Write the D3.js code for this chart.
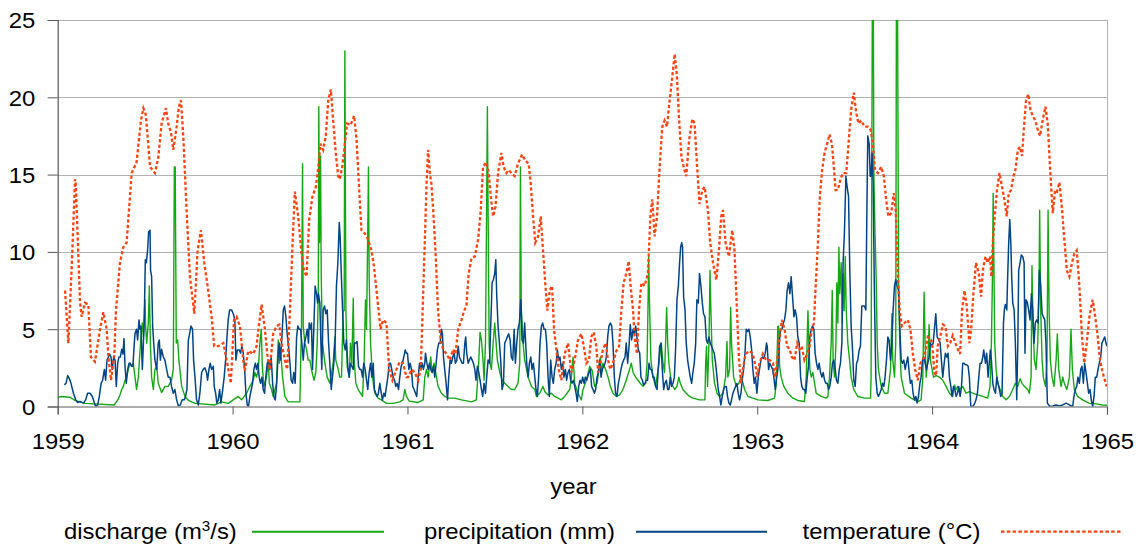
<!DOCTYPE html>
<html>
<head>
<meta charset="utf-8">
<script src="https://cdn.jsdelivr.net/npm/d3@7"></script>
<style>
  body { margin: 0; background: #fff; }
  text { font-family: "Liberation Sans", Arial, sans-serif; }
</style>
</head>
<body>
<svg id="chart" width="1145" height="549"></svg>
<script>
// Axis ticks and series labels
const yearTicks = [1959, 1960, 1961, 1962, 1963, 1964, 1965];
const valueTicks = [0, 5, 10, 15, 20, 25];
const seriesNames = ["discharge", "precipitation (mm)", "temperature (°C)"];

// Discharge (m³/s): [decimal year, value]
const discharge = [
[1959.000,0.6],[1959.023,0.65],[1959.070,0.6],[1959.099,0.4],[1959.128,0.3],[1959.156,0.2],[1959.324,0.1],[1959.347,0.5],[1959.356,0.75],[1959.366,1.1],[1959.375,1.3],[1959.385,1.7],[1959.394,1.9],[1959.404,2.4],[1959.413,2.8],[1959.423,2.6],[1959.432,2.8],[1959.442,1.9],[1959.451,1.1],[1959.461,1.9],[1959.476,4.5],[1959.484,5.4],[1959.490,4.5],[1959.499,6.9],[1959.503,5.1],[1959.509,4.1],[1959.518,5.4],[1959.524,7.8],[1959.530,4.1],[1959.537,1.9],[1959.547,1.1],[1959.556,2.4],[1959.566,2.6],[1959.575,1.5],[1959.594,0.9],[1959.613,1.3],[1959.632,1.3],[1959.651,1.7],[1959.661,2.4],[1959.667,15.5],[1959.672,15.5],[1959.678,4.1],[1959.686,4.3],[1959.693,3.0],[1959.709,1.3],[1959.728,0.65],[1959.747,0.4],[1959.785,0.2],[1959.899,0.1],[1959.937,0.3],[1959.975,0.2],[1960.000,0.4],
[1960.032,0.65],[1960.051,0.43],[1960.080,0.86],[1960.099,1.3],[1960.118,1.7],[1960.128,2.2],[1960.137,1.9],[1960.147,2.4],[1960.156,4.1],[1960.164,5.0],[1960.170,2.6],[1960.179,1.3],[1960.194,1.9],[1960.204,3.0],[1960.210,1.5],[1960.223,1.1],[1960.232,0.65],[1960.251,1.5],[1960.261,4.3],[1960.267,2.8],[1960.274,3.7],[1960.286,1.9],[1960.299,0.65],[1960.318,0.3],[1960.385,0.3],[1960.389,2.8],[1960.394,5.0],[1960.400,15.7],[1960.404,5.2],[1960.413,4.1],[1960.423,3.7],[1960.432,3.0],[1960.442,3.0],[1960.451,2.4],[1960.465,1.7],[1960.476,2.2],[1960.484,4.1],[1960.490,7.3],[1960.493,19.4],[1960.497,10.6],[1960.503,16.2],[1960.507,8.4],[1960.514,4.1],[1960.528,2.8],[1960.541,1.9],[1960.556,1.5],[1960.575,2.8],[1960.585,4.5],[1960.590,3.0],[1960.604,2.4],[1960.613,1.9],[1960.623,1.9],[1960.632,6.2],[1960.638,6.2],[1960.642,23.0],[1960.648,6.2],[1960.655,2.6],[1960.667,1.9],[1960.674,4.1],[1960.682,2.8],[1960.690,7.0],[1960.695,3.0],[1960.705,1.5],[1960.718,1.1],[1960.731,0.86],[1960.743,0.65],[1960.752,2.8],[1960.760,6.9],[1960.766,5.0],[1960.773,11.4],[1960.777,15.5],[1960.781,8.4],[1960.789,4.1],[1960.800,1.9],[1960.813,0.86],[1960.832,0.54],[1960.851,0.43],[1960.880,0.2],[1960.918,0.2],[1960.956,0.3],[1960.975,0.43],[1960.985,1.1],[1960.994,0.65],
[1961.010,0.35],[1961.061,0.26],[1961.090,0.43],[1961.099,1.9],[1961.109,2.4],[1961.118,1.9],[1961.133,3.2],[1961.141,2.2],[1961.152,2.8],[1961.166,1.9],[1961.175,1.3],[1961.194,0.86],[1961.213,0.65],[1961.232,0.54],[1961.270,0.54],[1961.309,0.43],[1961.366,0.3],[1961.394,0.43],[1961.408,3.0],[1961.415,4.8],[1961.423,4.3],[1961.432,3.0],[1961.438,1.7],[1961.446,4.1],[1961.451,10.6],[1961.457,19.4],[1961.461,12.7],[1961.467,4.1],[1961.472,2.8],[1961.480,2.4],[1961.490,4.1],[1961.499,5.4],[1961.507,4.1],[1961.514,3.0],[1961.528,2.2],[1961.541,1.7],[1961.556,1.5],[1961.575,1.3],[1961.594,1.1],[1961.613,1.1],[1961.632,1.5],[1961.642,2.8],[1961.646,15.5],[1961.651,6.2],[1961.661,4.1],[1961.670,3.0],[1961.690,1.9],[1961.709,1.3],[1961.728,1.1],[1961.737,0.65],[1961.756,0.86],[1961.775,1.3],[1961.785,0.97],[1961.804,0.75],[1961.823,0.86],[1961.842,0.65],[1961.861,0.54],[1961.880,0.43],[1961.899,0.65],[1961.928,1.1],[1961.937,1.9],[1961.947,3.2],[1961.956,1.5],[1961.975,0.86],[1961.994,0.43],
[1962.004,1.1],[1962.023,1.7],[1962.042,2.6],[1962.057,2.3],[1962.070,1.3],[1962.084,1.5],[1962.095,2.4],[1962.103,3.2],[1962.109,2.2],[1962.118,2.8],[1962.133,2.4],[1962.147,1.9],[1962.160,1.3],[1962.175,0.86],[1962.194,0.65],[1962.213,0.75],[1962.232,1.1],[1962.251,1.7],[1962.270,2.4],[1962.280,2.8],[1962.290,2.2],[1962.305,1.9],[1962.318,1.7],[1962.331,1.5],[1962.347,1.3],[1962.362,1.5],[1962.370,2.8],[1962.375,6.2],[1962.379,9.7],[1962.385,6.2],[1962.392,3.0],[1962.404,1.9],[1962.419,1.3],[1962.438,2.8],[1962.451,4.1],[1962.461,2.8],[1962.470,2.2],[1962.476,4.1],[1962.482,6.4],[1962.488,4.1],[1962.495,2.8],[1962.509,1.5],[1962.528,1.1],[1962.541,1.3],[1962.552,1.9],[1962.560,1.5],[1962.575,1.1],[1962.594,0.86],[1962.613,0.65],[1962.632,0.54],[1962.670,0.43],[1962.701,0.43],[1962.705,2.8],[1962.710,3.9],[1962.716,1.3],[1962.724,4.1],[1962.730,8.8],[1962.735,6.2],[1962.743,3.0],[1962.756,1.5],[1962.770,0.86],[1962.785,0.65],[1962.804,0.86],[1962.819,1.9],[1962.827,4.2],[1962.832,1.9],[1962.842,2.4],[1962.848,6.4],[1962.853,4.1],[1962.865,1.9],[1962.880,1.3],[1962.895,1.5],[1962.907,1.9],[1962.914,1.7],[1962.928,1.1],[1962.947,0.65],[1962.975,0.54],
[1963.004,0.43],[1963.061,0.39],[1963.099,0.54],[1963.109,1.5],[1963.118,5.2],[1963.122,5.2],[1963.128,2.6],[1963.137,1.9],[1963.152,1.3],[1963.175,0.86],[1963.204,0.54],[1963.232,0.39],[1963.270,0.32],[1963.280,1.9],[1963.290,6.2],[1963.295,4.1],[1963.301,2.4],[1963.309,1.9],[1963.318,2.2],[1963.328,1.5],[1963.337,0.86],[1963.366,0.65],[1963.394,0.54],[1963.404,0.65],[1963.413,1.9],[1963.423,4.1],[1963.429,7.5],[1963.434,3.0],[1963.442,1.9],[1963.450,4.1],[1963.455,8.0],[1963.461,5.4],[1963.467,10.3],[1963.472,7.3],[1963.480,9.3],[1963.486,5.4],[1963.491,8.6],[1963.497,6.2],[1963.503,9.7],[1963.509,6.2],[1963.518,4.1],[1963.528,3.0],[1963.537,1.9],[1963.552,1.1],[1963.575,0.65],[1963.613,0.54],[1963.648,0.54],[1963.651,1.9],[1963.655,14.9],[1963.659,29.0],[1963.663,29.0],[1963.667,14.9],[1963.674,11.0],[1963.680,8.4],[1963.686,4.1],[1963.693,2.4],[1963.709,1.3],[1963.728,0.86],[1963.747,0.86],[1963.762,2.4],[1963.770,6.0],[1963.775,3.0],[1963.785,1.9],[1963.792,4.1],[1963.796,27.0],[1963.802,27.0],[1963.808,8.4],[1963.815,4.1],[1963.823,1.9],[1963.842,0.86],[1963.880,0.54],[1963.918,0.32],[1963.937,0.43],[1963.947,1.9],[1963.954,7.4],[1963.960,4.1],[1963.966,1.9],[1963.975,3.0],[1963.983,5.3],[1963.990,3.0],
[1964.008,1.9],[1964.023,2.0],[1964.042,1.9],[1964.061,1.7],[1964.080,1.3],[1964.099,0.86],[1964.118,0.65],[1964.128,1.4],[1964.137,1.1],[1964.147,1.3],[1964.156,1.1],[1964.175,1.3],[1964.194,0.86],[1964.213,0.97],[1964.232,0.86],[1964.261,0.75],[1964.290,0.65],[1964.318,0.54],[1964.331,1.3],[1964.339,4.1],[1964.345,8.4],[1964.349,13.8],[1964.352,10.6],[1964.358,4.1],[1964.366,2.4],[1964.375,1.5],[1964.389,1.1],[1964.404,0.65],[1964.423,0.43],[1964.442,0.65],[1964.461,1.1],[1964.476,1.5],[1964.490,1.3],[1964.503,1.8],[1964.514,1.5],[1964.528,1.3],[1964.547,1.1],[1964.556,0.86],[1964.566,1.9],[1964.571,9.1],[1964.577,5.2],[1964.585,3.0],[1964.594,2.4],[1964.604,4.1],[1964.611,7.5],[1964.615,12.7],[1964.621,6.2],[1964.629,3.0],[1964.636,1.9],[1964.648,1.3],[1964.657,3.0],[1964.663,12.7],[1964.669,6.2],[1964.676,3.0],[1964.686,1.9],[1964.697,1.3],[1964.709,3.0],[1964.716,4.7],[1964.724,2.4],[1964.737,1.3],[1964.747,1.9],[1964.756,1.5],[1964.770,1.1],[1964.785,1.9],[1964.794,5.0],[1964.802,2.4],[1964.813,1.1],[1964.832,0.65],[1964.861,0.43],[1964.899,0.2],[1964.937,0.17],[1964.975,0.1],[1965.000,0.08]
];

// Precipitation (mm): [decimal year, value]
const precipitation = [
[1959.038,1.4],[1959.048,1.5],[1959.057,2.0],[1959.067,1.8],[1959.076,1.5],[1959.090,0.86],[1959.103,0.43],[1959.114,0.26],[1959.128,0.32],[1959.147,0.22],[1959.160,0.43],[1959.171,0.86],[1959.185,0.86],[1959.198,0.65],[1959.210,0.22],[1959.217,0],[1959.229,0.1],[1959.238,0.65],[1959.248,1.5],[1959.257,1.7],[1959.267,2.4],[1959.274,1.7],[1959.282,3.0],[1959.290,3.2],[1959.297,3.4],[1959.305,3.2],[1959.312,2.4],[1959.320,3.2],[1959.328,3.0],[1959.335,1.3],[1959.343,2.8],[1959.350,3.2],[1959.358,3.2],[1959.366,3.7],[1959.373,3.4],[1959.379,4.4],[1959.385,2.6],[1959.392,1.5],[1959.400,2.4],[1959.408,2.8],[1959.415,2.8],[1959.423,2.6],[1959.430,2.6],[1959.438,4.1],[1959.442,4.7],[1959.451,5.0],[1959.457,4.3],[1959.465,5.6],[1959.470,5.0],[1959.476,5.2],[1959.484,2.4],[1959.490,4.1],[1959.495,5.6],[1959.501,9.5],[1959.507,9.3],[1959.514,10.1],[1959.520,11.3],[1959.528,11.4],[1959.531,8.8],[1959.537,8.4],[1959.543,5.2],[1959.549,4.1],[1959.556,3.0],[1959.566,2.4],[1959.575,4.1],[1959.581,4.3],[1959.587,3.0],[1959.594,3.7],[1959.604,3.2],[1959.613,3.0],[1959.623,2.4],[1959.632,1.9],[1959.642,1.9],[1959.651,1.3],[1959.661,0.86],[1959.670,1.1],[1959.680,0.43],[1959.690,0.04],[1959.701,0.1],[1959.712,0.43],[1959.724,0.43],[1959.731,0.65],[1959.739,1.1],[1959.747,4.3],[1959.754,4.7],[1959.762,5.2],[1959.771,5.0],[1959.777,3.0],[1959.785,1.9],[1959.794,0.43],[1959.804,0.1],[1959.813,0.86],[1959.823,2.2],[1959.832,2.4],[1959.842,2.5],[1959.851,2.2],[1959.857,1.7],[1959.865,2.4],[1959.872,2.8],[1959.880,2.4],[1959.890,2.6],[1959.895,1.3],[1959.903,0.86],[1959.910,0.22],[1959.918,0.43],[1959.926,1.1],[1959.933,0.22],[1959.941,0.86],[1959.952,1.9],[1959.960,3.0],[1959.968,4.5],[1959.975,5.6],[1959.983,6.25],[1959.994,6.25],[1960.004,6.0],[1960.013,5.6],
[1960.019,3.0],[1960.027,3.66],[1960.038,3.66],[1960.046,3.45],[1960.053,3.9],[1960.061,3.45],[1960.069,2.4],[1960.076,0.86],[1960.084,0.1],[1960.091,0],[1960.099,0.65],[1960.107,1.1],[1960.114,1.5],[1960.122,2.4],[1960.130,2.8],[1960.137,2.4],[1960.145,2.8],[1960.152,1.9],[1960.160,1.5],[1960.168,1.9],[1960.175,1.1],[1960.183,0.86],[1960.190,1.9],[1960.198,2.8],[1960.206,3.0],[1960.213,2.4],[1960.221,3.2],[1960.229,1.5],[1960.236,0.65],[1960.244,0.43],[1960.251,1.3],[1960.259,3.0],[1960.267,4.1],[1960.274,3.0],[1960.282,4.5],[1960.290,6.25],[1960.297,6.5],[1960.305,5.8],[1960.312,4.7],[1960.320,3.9],[1960.328,2.8],[1960.335,1.7],[1960.343,1.5],[1960.350,2.2],[1960.358,1.5],[1960.366,4.5],[1960.373,5.2],[1960.381,5.0],[1960.389,5.0],[1960.396,4.1],[1960.404,3.0],[1960.411,4.1],[1960.419,4.5],[1960.427,5.0],[1960.434,4.1],[1960.438,5.4],[1960.446,5.0],[1960.451,5.4],[1960.457,2.4],[1960.465,5.2],[1960.472,7.8],[1960.480,7.3],[1960.486,6.7],[1960.491,7.3],[1960.499,6.7],[1960.505,4.1],[1960.510,2.4],[1960.518,6.25],[1960.526,6.5],[1960.533,6.0],[1960.541,6.25],[1960.549,4.1],[1960.556,2.8],[1960.564,1.1],[1960.571,1.9],[1960.579,2.8],[1960.587,4.5],[1960.594,7.8],[1960.602,9.3],[1960.610,11.9],[1960.615,11.0],[1960.621,8.8],[1960.629,6.25],[1960.636,4.1],[1960.644,3.66],[1960.651,4.3],[1960.659,2.6],[1960.667,1.9],[1960.674,2.8],[1960.682,2.6],[1960.690,2.4],[1960.697,4.1],[1960.705,4.1],[1960.712,4.2],[1960.720,2.6],[1960.728,2.4],[1960.735,2.4],[1960.743,1.9],[1960.750,2.8],[1960.758,2.4],[1960.766,1.7],[1960.773,1.1],[1960.781,2.2],[1960.789,2.8],[1960.796,1.9],[1960.804,2.8],[1960.811,1.1],[1960.819,0.86],[1960.827,0.65],[1960.834,0.86],[1960.842,1.5],[1960.850,0.86],[1960.857,0.43],[1960.865,0.86],[1960.872,0.65],[1960.880,1.3],[1960.888,1.9],[1960.895,2.8],[1960.903,2.8],[1960.910,2.4],[1960.918,1.9],[1960.926,1.7],[1960.933,1.3],[1960.941,1.5],[1960.949,1.1],[1960.956,1.9],[1960.964,2.6],[1960.971,2.8],[1960.979,3.2],[1960.987,3.66],[1960.994,3.45],
[1961.000,3.45],[1961.008,2.4],[1961.015,2.8],[1961.023,2.4],[1961.030,1.3],[1961.038,1.1],[1961.046,0.86],[1961.053,0.65],[1961.061,1.9],[1961.069,2.8],[1961.076,2.4],[1961.084,2.8],[1961.091,2.4],[1961.099,2.8],[1961.103,3.45],[1961.111,2.8],[1961.118,2.4],[1961.126,2.8],[1961.133,2.4],[1961.141,2.2],[1961.149,2.6],[1961.156,1.9],[1961.164,2.8],[1961.171,3.66],[1961.179,4.1],[1961.187,4.1],[1961.194,5.0],[1961.200,4.7],[1961.206,3.2],[1961.213,2.4],[1961.221,1.5],[1961.229,0.43],[1961.236,1.9],[1961.244,3.0],[1961.251,2.8],[1961.259,3.2],[1961.267,3.45],[1961.274,2.8],[1961.282,3.0],[1961.290,3.9],[1961.297,3.2],[1961.305,3.0],[1961.312,2.8],[1961.320,2.8],[1961.328,4.1],[1961.333,4.5],[1961.339,3.45],[1961.347,2.8],[1961.354,3.0],[1961.362,3.2],[1961.370,3.0],[1961.377,2.8],[1961.385,2.4],[1961.392,1.7],[1961.400,2.6],[1961.408,2.2],[1961.415,1.7],[1961.423,1.1],[1961.430,0.65],[1961.438,1.5],[1961.446,0.86],[1961.453,1.9],[1961.461,3.0],[1961.469,2.8],[1961.476,5.2],[1961.484,8.0],[1961.491,8.2],[1961.499,8.6],[1961.505,9.5],[1961.510,7.3],[1961.518,5.2],[1961.526,4.1],[1961.533,3.0],[1961.541,1.1],[1961.549,1.5],[1961.556,4.1],[1961.564,4.3],[1961.571,4.5],[1961.579,4.7],[1961.587,4.3],[1961.594,3.2],[1961.602,3.0],[1961.610,5.0],[1961.617,2.8],[1961.625,4.1],[1961.632,5.0],[1961.640,5.4],[1961.648,6.9],[1961.651,6.25],[1961.655,4.3],[1961.663,4.1],[1961.670,5.4],[1961.676,4.1],[1961.682,2.8],[1961.690,1.9],[1961.697,2.8],[1961.705,3.2],[1961.712,2.4],[1961.720,2.8],[1961.728,1.9],[1961.735,1.1],[1961.743,0.65],[1961.750,1.9],[1961.758,4.1],[1961.766,5.2],[1961.773,5.4],[1961.781,5.0],[1961.789,5.0],[1961.796,4.1],[1961.804,1.9],[1961.811,0.65],[1961.819,3.0],[1961.827,1.9],[1961.834,1.5],[1961.842,2.4],[1961.850,2.8],[1961.857,3.66],[1961.865,3.0],[1961.872,3.2],[1961.880,2.4],[1961.888,2.8],[1961.895,1.9],[1961.903,2.4],[1961.910,1.7],[1961.918,2.2],[1961.926,2.4],[1961.933,1.7],[1961.941,1.5],[1961.949,1.7],[1961.956,1.3],[1961.964,0.86],[1961.971,0.32],[1961.979,1.3],[1961.987,1.7],[1961.994,1.5],[1962.002,1.9],[1962.010,1.5],[1962.017,1.9],[1962.025,1.7],
[1962.030,1.9],[1962.038,2.2],[1962.046,2.4],[1962.053,1.3],[1962.061,1.1],[1962.069,0.86],[1962.076,1.1],[1962.084,1.9],[1962.091,2.2],[1962.099,3.0],[1962.107,1.9],[1962.114,2.4],[1962.122,2.6],[1962.130,2.8],[1962.137,3.2],[1962.145,4.5],[1962.152,5.2],[1962.160,5.4],[1962.168,5.2],[1962.175,4.1],[1962.183,1.9],[1962.190,0.86],[1962.198,0.65],[1962.206,1.5],[1962.213,1.9],[1962.221,2.4],[1962.229,2.8],[1962.236,3.0],[1962.244,3.2],[1962.251,4.1],[1962.259,2.8],[1962.267,3.9],[1962.274,5.3],[1962.282,4.3],[1962.290,5.0],[1962.297,4.7],[1962.305,5.2],[1962.312,4.5],[1962.320,3.66],[1962.328,3.45],[1962.335,1.9],[1962.343,1.7],[1962.350,1.4],[1962.358,1.5],[1962.366,1.7],[1962.373,1.7],[1962.381,2.8],[1962.389,2.4],[1962.396,2.4],[1962.404,1.9],[1962.411,1.9],[1962.419,1.3],[1962.427,1.1],[1962.434,2.4],[1962.442,3.9],[1962.450,4.1],[1962.457,2.4],[1962.465,1.1],[1962.472,1.5],[1962.480,1.7],[1962.488,1.1],[1962.495,1.1],[1962.503,1.9],[1962.510,1.3],[1962.518,1.5],[1962.526,1.9],[1962.533,3.66],[1962.541,6.9],[1962.549,7.8],[1962.556,9.3],[1962.562,10.3],[1962.568,10.6],[1962.573,10.3],[1962.579,7.1],[1962.587,6.25],[1962.594,4.1],[1962.602,3.0],[1962.610,2.4],[1962.617,1.9],[1962.625,1.5],[1962.632,2.2],[1962.640,2.8],[1962.648,4.1],[1962.655,6.9],[1962.663,6.7],[1962.670,8.6],[1962.678,7.8],[1962.686,6.7],[1962.693,6.0],[1962.701,5.8],[1962.709,4.3],[1962.716,4.1],[1962.724,4.5],[1962.731,4.1],[1962.739,3.9],[1962.747,3.66],[1962.754,3.45],[1962.762,2.8],[1962.770,1.9],[1962.777,1.1],[1962.785,0.65],[1962.792,0.1],[1962.800,0.65],[1962.808,1.1],[1962.815,1.3],[1962.823,1.3],[1962.830,0.65],[1962.838,0.22],[1962.846,0.1],[1962.853,0.43],[1962.861,0.86],[1962.869,1.1],[1962.876,1.3],[1962.884,1.5],[1962.891,0.86],[1962.899,0.43],[1962.907,0.86],[1962.914,1.7],[1962.922,2.4],[1962.930,3.45],[1962.937,5.0],[1962.945,4.85],[1962.952,5.0],[1962.960,4.5],[1962.968,3.66],[1962.975,2.4],[1962.983,1.5],[1962.990,1.9],[1962.998,0.86],[1963.006,1.9],[1963.013,2.4],[1963.021,3.0],[1963.029,3.2],
[1963.037,3.1],[1963.046,3.45],[1963.053,4.1],[1963.057,3.9],[1963.065,2.4],[1963.072,2.8],[1963.080,2.6],[1963.088,2.4],[1963.095,1.9],[1963.103,1.1],[1963.111,1.9],[1963.118,2.4],[1963.126,4.1],[1963.133,5.0],[1963.141,5.0],[1963.149,5.4],[1963.156,5.6],[1963.164,6.25],[1963.171,7.5],[1963.179,8.0],[1963.187,7.3],[1963.194,8.4],[1963.202,7.1],[1963.210,5.8],[1963.217,6.25],[1963.225,5.8],[1963.232,4.5],[1963.240,4.1],[1963.248,1.9],[1963.255,1.3],[1963.263,1.1],[1963.270,1.1],[1963.278,0.86],[1963.286,1.9],[1963.293,2.6],[1963.301,4.5],[1963.309,5.0],[1963.316,5.2],[1963.324,5.0],[1963.331,3.45],[1963.339,2.8],[1963.347,2.4],[1963.354,2.8],[1963.362,2.2],[1963.370,1.9],[1963.377,2.2],[1963.385,1.7],[1963.392,1.5],[1963.400,1.5],[1963.408,1.1],[1963.415,1.3],[1963.423,1.9],[1963.430,2.8],[1963.438,3.0],[1963.446,2.4],[1963.453,1.7],[1963.461,1.5],[1963.469,2.4],[1963.476,2.8],[1963.484,4.1],[1963.491,9.3],[1963.499,11.4],[1963.507,14.9],[1963.514,14.2],[1963.522,13.6],[1963.530,8.4],[1963.537,5.2],[1963.545,3.66],[1963.552,1.7],[1963.560,1.3],[1963.568,2.8],[1963.575,3.0],[1963.583,3.66],[1963.590,3.9],[1963.598,6.5],[1963.606,6.5],[1963.613,6.5],[1963.621,6.25],[1963.627,12.7],[1963.632,17.5],[1963.640,17.0],[1963.646,14.9],[1963.651,14.9],[1963.657,16.4],[1963.663,14.4],[1963.670,7.3],[1963.678,1.9],[1963.686,0.86],[1963.693,0.65],[1963.701,0.86],[1963.709,1.1],[1963.716,1.5],[1963.724,1.3],[1963.731,1.9],[1963.739,3.0],[1963.747,4.5],[1963.754,4.3],[1963.762,3.0],[1963.770,4.1],[1963.777,6.25],[1963.785,7.8],[1963.792,8.2],[1963.800,7.8],[1963.808,7.5],[1963.815,5.2],[1963.823,3.0],[1963.830,2.8],[1963.838,3.0],[1963.846,2.4],[1963.853,2.8],[1963.861,3.2],[1963.869,2.2],[1963.876,1.5],[1963.884,1.7],[1963.891,0.86],[1963.899,0.43],[1963.907,0.65],[1963.914,0.22],[1963.922,0.65],[1963.930,1.5],[1963.937,1.9],[1963.945,3.0],[1963.952,3.2],[1963.960,2.8],[1963.968,2.4],[1963.975,2.8],[1963.983,3.2],[1963.990,4.1],[1963.998,3.9],[1964.006,4.1],[1964.013,5.0],[1964.021,6.0],[1964.029,4.5],
[1964.038,4.3],[1964.046,4.1],[1964.053,3.0],[1964.061,1.9],[1964.069,2.8],[1964.076,3.45],[1964.084,3.2],[1964.091,3.45],[1964.099,1.9],[1964.107,1.3],[1964.114,0.65],[1964.122,1.3],[1964.130,1.1],[1964.137,0.65],[1964.145,0.86],[1964.152,1.3],[1964.160,0.65],[1964.168,1.3],[1964.175,2.8],[1964.183,2.8],[1964.190,2.7],[1964.198,2.7],[1964.206,2.6],[1964.213,1.9],[1964.221,0],[1964.229,0],[1964.236,0.04],[1964.244,0.22],[1964.251,0.43],[1964.259,0.86],[1964.267,1.9],[1964.274,2.8],[1964.282,2.8],[1964.290,3.2],[1964.295,3.66],[1964.305,2.8],[1964.312,3.45],[1964.320,1.9],[1964.328,3.0],[1964.333,3.66],[1964.339,3.0],[1964.347,1.5],[1964.354,1.1],[1964.362,0.86],[1964.370,1.9],[1964.377,1.5],[1964.385,1.1],[1964.392,0.65],[1964.400,0.86],[1964.408,5.4],[1964.413,6.25],[1964.419,6.6],[1964.427,6.25],[1964.432,8.4],[1964.438,10.6],[1964.444,12.1],[1964.450,10.6],[1964.455,8.4],[1964.461,6.7],[1964.469,6.25],[1964.476,4.1],[1964.484,0.43],[1964.490,4.1],[1964.495,8.8],[1964.503,9.3],[1964.510,9.8],[1964.518,9.7],[1964.526,9.3],[1964.531,3.45],[1964.537,6.9],[1964.545,6.7],[1964.552,6.25],[1964.560,5.6],[1964.568,7.3],[1964.575,6.25],[1964.583,4.1],[1964.590,5.4],[1964.598,5.6],[1964.606,5.4],[1964.613,8.8],[1964.621,7.8],[1964.629,6.0],[1964.636,5.8],[1964.644,5.6],[1964.651,4.1],[1964.659,0.22],[1964.667,0.1],[1964.674,0],[1964.690,0.04],[1964.709,0.1],[1964.728,0.04],[1964.747,0.1],[1964.766,0.22],[1964.785,0.1],[1964.804,0],[1964.811,0.65],[1964.819,1.1],[1964.827,1.3],[1964.834,1.9],[1964.842,1.5],[1964.850,2.4],[1964.857,2.6],[1964.865,1.5],[1964.872,2.8],[1964.880,2.2],[1964.888,1.5],[1964.895,0.86],[1964.903,1.1],[1964.910,0.43],[1964.918,0],[1964.926,0.65],[1964.933,1.9],[1964.941,1.9],[1964.949,2.4],[1964.956,2.8],[1964.964,3.2],[1964.971,4.1],[1964.979,4.3],[1964.987,4.5],[1964.994,4.1],[1965.000,3.9]
];

// Temperature (°C): [decimal year, value]
const temperature = [
[1959.042,7.5],[1959.061,4.1],[1959.080,9.0],[1959.099,14.7],[1959.103,14.5],[1959.128,6.7],[1959.137,5.8],[1959.156,6.7],[1959.175,6.6],[1959.190,3.2],[1959.213,2.9],[1959.242,5.0],[1959.261,6.1],[1959.280,5.0],[1959.290,3.2],[1959.305,1.7],[1959.324,3.4],[1959.333,6.2],[1959.356,9.3],[1959.375,10.3],[1959.394,10.6],[1959.423,15.1],[1959.451,15.8],[1959.476,18.5],[1959.490,19.3],[1959.503,18.9],[1959.514,17.5],[1959.528,15.5],[1959.556,15.1],[1959.575,16.1],[1959.594,18.3],[1959.619,19.3],[1959.632,18.3],[1959.648,17.7],[1959.661,16.6],[1959.680,18.1],[1959.693,19.4],[1959.705,19.8],[1959.718,17.5],[1959.737,12.7],[1959.756,8.4],[1959.781,6.0],[1959.800,10.1],[1959.819,11.4],[1959.838,9.3],[1959.857,7.8],[1959.880,5.8],[1959.895,3.9],[1959.918,3.9],[1959.947,4.1],[1959.966,3.0],[1959.990,1.5],
[1960.008,5.6],[1960.023,5.8],[1960.042,5.2],[1960.061,3.0],[1960.070,2.3],[1960.090,3.6],[1960.118,3.4],[1960.137,3.9],[1960.152,5.4],[1960.166,6.6],[1960.185,5.0],[1960.198,3.4],[1960.213,2.4],[1960.232,4.7],[1960.251,5.2],[1960.267,5.3],[1960.280,4.1],[1960.299,3.0],[1960.312,2.4],[1960.328,6.2],[1960.343,10.6],[1960.356,13.9],[1960.375,12.3],[1960.394,9.9],[1960.408,8.8],[1960.423,8.4],[1960.438,12.1],[1960.457,13.6],[1960.476,14.2],[1960.490,15.5],[1960.503,17.0],[1960.518,16.6],[1960.533,17.5],[1960.547,19.8],[1960.562,20.5],[1960.575,18.5],[1960.590,16.4],[1960.604,14.9],[1960.613,14.7],[1960.627,15.5],[1960.642,17.0],[1960.655,18.3],[1960.674,18.2],[1960.695,18.8],[1960.709,17.2],[1960.724,14.0],[1960.737,11.4],[1960.756,11.2],[1960.775,10.8],[1960.794,10.1],[1960.808,9.1],[1960.823,7.5],[1960.846,5.0],[1960.861,5.6],[1960.880,5.4],[1960.895,2.4],[1960.914,1.7],[1960.937,2.4],[1960.956,2.9],[1960.975,2.8],[1960.994,1.9],
[1961.004,1.9],[1961.023,2.4],[1961.042,2.2],[1961.061,1.7],[1961.076,2.4],[1961.090,7.3],[1961.099,10.6],[1961.109,14.4],[1961.118,16.6],[1961.128,15.1],[1961.137,14.4],[1961.147,12.7],[1961.160,10.1],[1961.175,6.2],[1961.190,4.3],[1961.204,3.7],[1961.223,3.4],[1961.242,3.0],[1961.261,3.7],[1961.274,3.4],[1961.290,5.0],[1961.309,5.6],[1961.324,6.2],[1961.337,6.5],[1961.350,8.6],[1961.366,9.6],[1961.385,9.7],[1961.404,10.8],[1961.419,12.7],[1961.432,15.5],[1961.451,15.8],[1961.465,15.1],[1961.476,13.6],[1961.490,12.3],[1961.503,12.9],[1961.518,15.1],[1961.537,16.4],[1961.550,15.5],[1961.566,15.1],[1961.579,15.3],[1961.594,15.1],[1961.613,14.9],[1961.632,15.7],[1961.655,16.3],[1961.674,15.9],[1961.693,15.7],[1961.705,14.4],[1961.718,12.3],[1961.731,10.6],[1961.747,11.0],[1961.762,12.3],[1961.775,10.1],[1961.789,7.8],[1961.800,6.2],[1961.813,7.5],[1961.827,7.8],[1961.838,5.0],[1961.851,3.7],[1961.865,2.4],[1961.880,1.7],[1961.899,3.4],[1961.918,4.1],[1961.937,2.2],[1961.956,3.0],[1961.975,4.3],[1961.994,4.7],
[1962.008,3.9],[1962.023,2.8],[1962.038,3.0],[1962.051,4.5],[1962.065,4.8],[1962.080,3.9],[1962.090,2.2],[1962.103,2.8],[1962.118,3.7],[1962.133,4.1],[1962.147,3.0],[1962.160,2.4],[1962.175,2.8],[1962.194,3.6],[1962.210,3.9],[1962.223,6.2],[1962.236,8.0],[1962.251,8.6],[1962.265,9.4],[1962.274,8.0],[1962.290,6.2],[1962.299,4.5],[1962.312,3.4],[1962.324,6.2],[1962.337,8.0],[1962.356,7.8],[1962.375,8.6],[1962.389,12.3],[1962.400,13.4],[1962.413,11.0],[1962.427,12.3],[1962.442,15.5],[1962.457,18.1],[1962.470,18.5],[1962.484,18.1],[1962.499,19.8],[1962.514,21.3],[1962.528,22.8],[1962.541,21.3],[1962.552,18.8],[1962.566,16.2],[1962.579,15.5],[1962.594,14.9],[1962.610,17.2],[1962.629,18.6],[1962.642,18.3],[1962.655,15.7],[1962.670,13.1],[1962.686,14.0],[1962.699,14.2],[1962.718,12.7],[1962.731,10.6],[1962.747,9.3],[1962.766,8.2],[1962.781,10.1],[1962.794,12.3],[1962.804,12.7],[1962.819,10.6],[1962.838,9.7],[1962.857,11.4],[1962.870,10.1],[1962.884,6.2],[1962.895,3.2],[1962.907,1.5],[1962.918,2.4],[1962.933,3.4],[1962.956,3.6],[1962.975,3.4],[1962.994,2.4],
[1963.000,1.9],[1963.013,2.8],[1963.032,3.4],[1963.051,3.0],[1963.070,3.0],[1963.090,2.8],[1963.103,1.9],[1963.114,3.0],[1963.128,4.5],[1963.141,5.6],[1963.156,5.0],[1963.171,3.9],[1963.185,3.7],[1963.198,3.2],[1963.213,3.0],[1963.229,4.1],[1963.242,3.7],[1963.255,3.9],[1963.270,3.0],[1963.286,3.4],[1963.299,3.9],[1963.312,5.0],[1963.324,5.4],[1963.333,7.5],[1963.347,10.6],[1963.358,13.6],[1963.371,15.3],[1963.385,16.4],[1963.400,17.0],[1963.413,17.6],[1963.427,17.0],[1963.438,15.5],[1963.448,14.0],[1963.461,14.0],[1963.476,14.7],[1963.490,15.1],[1963.509,15.1],[1963.522,17.0],[1963.537,19.2],[1963.552,20.3],[1963.566,19.0],[1963.579,18.3],[1963.594,18.5],[1963.613,18.1],[1963.632,18.1],[1963.648,17.9],[1963.661,17.0],[1963.674,15.3],[1963.690,15.1],[1963.709,15.5],[1963.724,14.9],[1963.737,13.4],[1963.750,12.3],[1963.766,12.5],[1963.781,13.8],[1963.792,12.7],[1963.804,8.4],[1963.815,6.2],[1963.827,5.2],[1963.842,5.4],[1963.861,5.6],[1963.876,5.0],[1963.890,3.4],[1963.903,2.4],[1963.918,1.7],[1963.933,2.8],[1963.956,3.2],[1963.975,4.5],[1963.994,4.3],
[1964.000,4.1],[1964.013,2.2],[1964.023,2.0],[1964.032,3.9],[1964.046,4.5],[1964.061,5.3],[1964.076,5.2],[1964.090,3.9],[1964.103,4.1],[1964.118,4.6],[1964.133,4.1],[1964.147,3.7],[1964.160,3.4],[1964.171,6.2],[1964.185,7.5],[1964.198,6.5],[1964.213,4.1],[1964.223,5.0],[1964.236,7.3],[1964.251,9.3],[1964.267,8.6],[1964.280,7.1],[1964.290,8.8],[1964.305,9.7],[1964.318,9.3],[1964.331,9.7],[1964.339,8.4],[1964.347,10.6],[1964.358,12.3],[1964.371,14.0],[1964.385,15.1],[1964.400,14.2],[1964.413,13.4],[1964.427,12.3],[1964.438,13.8],[1964.451,14.0],[1964.465,14.9],[1964.476,15.3],[1964.490,16.6],[1964.503,16.8],[1964.514,16.2],[1964.524,17.9],[1964.537,19.8],[1964.550,20.2],[1964.562,19.2],[1964.575,18.8],[1964.590,18.5],[1964.604,17.9],[1964.617,17.5],[1964.632,18.5],[1964.648,19.4],[1964.661,18.3],[1964.674,15.5],[1964.690,12.5],[1964.703,14.0],[1964.714,13.9],[1964.728,14.5],[1964.743,12.7],[1964.756,10.8],[1964.770,8.8],[1964.785,8.4],[1964.800,9.3],[1964.813,9.9],[1964.827,10.1],[1964.842,7.8],[1964.857,4.5],[1964.870,2.8],[1964.884,4.1],[1964.899,5.8],[1964.918,6.9],[1964.933,5.8],[1964.947,4.5],[1964.960,3.0],[1964.975,2.2],[1964.998,1.3]
];

const colors = { discharge: "#14a814", precipitation: "#004586", temperature: "#ff420e" };
const fontSize = 22;
const widen = 1.085;   // horizontal stretch of the label glyphs

const svg = d3.select("#chart");
const plot = { left: 57.7, right: 1107, top: 20, bottom: 406.5 };

const x = d3.scaleLinear().domain([1959, 1965]).range([plot.left, plot.right]);
const y = d3.scaleLinear().domain([0, 25]).range([plot.bottom, plot.top]);

// Places a label at (px, py) with slightly widened glyphs
function placeText(sel, px, py) {
  return sel.attr("x", 0).attr("y", 0)
    .attr("transform", `translate(${px},${py}) scale(${widen},1)`);
}

// Clip series to the plotting area
svg.append("defs").append("clipPath").attr("id", "plot-clip")
  .append("rect")
  .attr("x", plot.left).attr("y", plot.top)
  .attr("width", plot.right - plot.left).attr("height", plot.bottom - plot.top);

// Horizontal gridlines
svg.append("g").selectAll("line")
  .data(valueTicks.filter(v => v > 0))
  .join("line")
  .attr("x1", plot.left).attr("x2", plot.right)
  .attr("y1", d => Math.round(y(d)) + 0.5).attr("y2", d => Math.round(y(d)) + 0.5)
  .attr("stroke", "#b3b3b3").attr("stroke-width", 1);

// Right frame edge
svg.append("line")
  .attr("x1", plot.right + 0.5).attr("x2", plot.right + 0.5)
  .attr("y1", plot.top).attr("y2", plot.bottom)
  .attr("stroke", "#b3b3b3");

// Series
const line = d3.line().x(d => x(d[0])).y(d => y(d[1]));
const series = svg.append("g").attr("clip-path", "url(#plot-clip)");
const sorted = arr => d3.sort(arr, d => d[0]);

series.append("path").datum(sorted(discharge))
  .attr("d", line).attr("fill", "none")
  .attr("stroke", colors.discharge).attr("stroke-width", 1.4)
  .attr("stroke-linejoin", "round");

series.append("path").datum(sorted(precipitation))
  .attr("d", line).attr("fill", "none")
  .attr("stroke", colors.precipitation).attr("stroke-width", 1.5)
  .attr("stroke-linejoin", "round");

series.append("path").datum(sorted(temperature))
  .attr("d", line).attr("fill", "none")
  .attr("stroke", colors.temperature).attr("stroke-width", 2.3)
  .attr("stroke-dasharray", "3.2,2.3");

// Axes
const xAxis = svg.append("g")
  .attr("transform", `translate(0,${plot.bottom})`)
  .call(d3.axisBottom(x).tickValues(yearTicks).tickFormat(d3.format("d")).tickSize(8));
const yAxis = svg.append("g")
  .attr("transform", `translate(${plot.left},0)`)
  .call(d3.axisLeft(y).tickValues(valueTicks).tickSize(10));

[xAxis, yAxis].forEach(g => {
  g.select(".domain").attr("stroke", "#5a5a5a").attr("stroke-width", 1.2);
  g.selectAll(".tick line").attr("stroke", "#5a5a5a");
  g.selectAll(".tick text").attr("font-size", fontSize).attr("fill", "#000")
    .attr("font-family", "'Liberation Sans', Arial, sans-serif")
    .attr("dy", null);
});
xAxis.selectAll(".tick text").each(function () { placeText(d3.select(this), 0, 42); });
yAxis.selectAll(".tick text").each(function () { placeText(d3.select(this), -22.5, 7.8); });

// Axis title
placeText(svg.append("text"), 573.5, 494)
  .attr("text-anchor", "middle").attr("font-size", fontSize).attr("fill", "#000")
  .text("year");

// Legend
const legendY = 539.3;
const lineY = 531.7;
const lg = svg.append("g").attr("font-size", fontSize).attr("fill", "#000");

const t1 = placeText(lg.append("text"), 64, legendY);
t1.append("tspan").text("discharge (m");
t1.append("tspan").attr("font-size", 14).attr("dy", -8).text("3");
t1.append("tspan").attr("dy", 8).text("/s)");
lg.append("line").attr("x1", 252).attr("x2", 384).attr("y1", lineY).attr("y2", lineY)
  .attr("stroke", colors.discharge).attr("stroke-width", 2);

placeText(lg.append("text"), 424, legendY).text(seriesNames[1]);
lg.append("line").attr("x1", 636).attr("x2", 767).attr("y1", lineY).attr("y2", lineY)
  .attr("stroke", colors.precipitation).attr("stroke-width", 2);

placeText(lg.append("text"), 802.5, legendY).text(seriesNames[2]);
lg.append("line").attr("x1", 1001).attr("x2", 1122).attr("y1", lineY).attr("y2", lineY)
  .attr("stroke", colors.temperature).attr("stroke-width", 2.2)
  .attr("stroke-dasharray", "3.5,2.3");
</script>
</body>
</html>
